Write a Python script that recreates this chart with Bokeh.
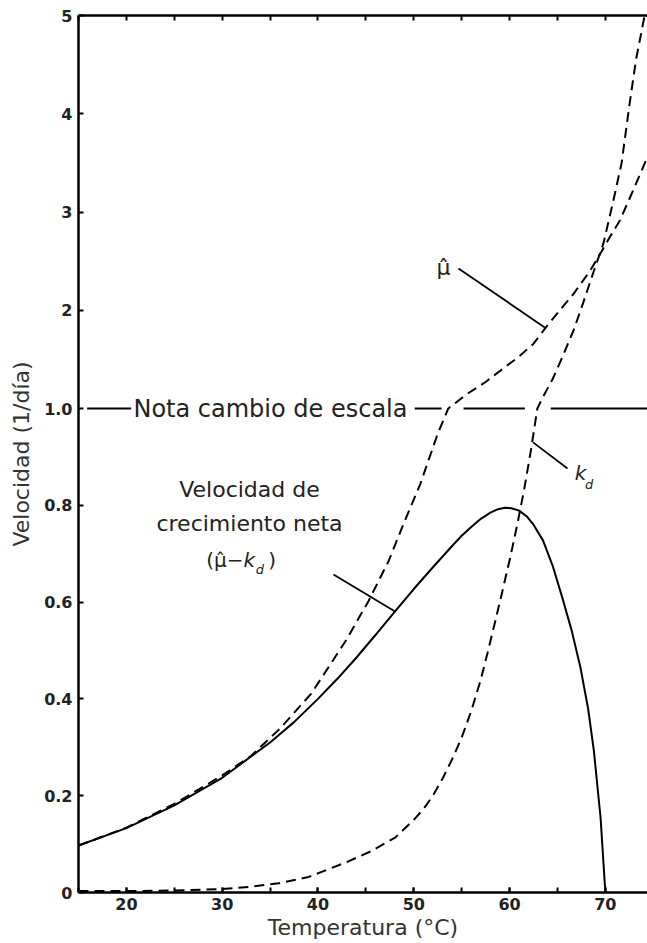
from bokeh.plotting import figure
from bokeh.models import Range1d, FixedTicker, Label, LinearAxis
from bokeh.embed import file_html
from bokeh.resources import INLINE

# ---------------- data (real values, 1/día) ----------------
temp_net = [15, 20, 25, 30, 35, 37.5, 40, 42, 44, 46, 48, 50, 52, 54, 55, 56, 57,
            58, 58.8, 59.5, 60.2, 61, 61.8, 62.5, 63.5, 64.5, 65.6, 66.5, 67.4,
            68.2, 68.8, 69.5, 70.0]
net_rate = [0.097, 0.133, 0.180, 0.237, 0.310, 0.352, 0.400, 0.441, 0.485, 0.532,
            0.580, 0.627, 0.672, 0.716, 0.737, 0.755, 0.772, 0.785, 0.792, 0.795,
            0.794, 0.789, 0.777, 0.760, 0.727, 0.675, 0.603, 0.540, 0.465, 0.380,
            0.293, 0.155, 0.0]

temp_mu = [15, 20, 25, 30, 33, 36, 39.3, 42.9, 45.3, 47.4, 49, 50.7, 52.5, 53.6,
           55.6, 57.5, 59.1, 61, 62.5, 63.75, 65, 66.7, 68.4, 69.5, 70.5, 71.5,
           72.9, 74.4]
mu_hat = [0.097, 0.134, 0.183, 0.242, 0.282, 0.338, 0.411, 0.52, 0.603, 0.686,
          0.765, 0.845, 0.948, 1.0, 1.15, 1.27, 1.39, 1.53, 1.66, 1.82, 1.97, 2.17,
          2.40, 2.58, 2.75, 2.91, 3.22, 3.56]

temp_kd = [15, 20, 25, 30, 33, 35.9, 39, 42.9, 45.5, 48.1, 50, 51, 52, 53, 54, 55,
           56, 57, 57.7, 58.5, 59.4, 60.1, 60.8, 61.5, 62.2, 62.9, 63.5, 64.5,
           65.5, 66.7, 67.7, 68.8, 69.8, 70.8, 71.7, 72.5, 73.2, 73.9, 74.1]
k_d = [0.003, 0.003, 0.004, 0.007, 0.012, 0.019, 0.032, 0.062, 0.085, 0.114, 0.150,
       0.172, 0.200, 0.235, 0.275, 0.320, 0.375, 0.440, 0.495, 0.560, 0.635,
       0.695, 0.760, 0.830, 0.910, 1.0, 1.12, 1.30, 1.52, 1.80, 2.08, 2.40, 2.68,
       3.10, 3.50, 4.08, 4.55, 4.90, 5.0]

y_ticks_low = [0.0, 0.2, 0.4, 0.6, 0.8, 1.0]
y_labels_low = ["0", "0.2", "0.4", "0.6", "0.8", "1.0"]
y_ticks_high = [2, 3, 4, 5]
y_labels_high = ["2", "3", "4", "5"]
x_major = [20, 30, 40, 50, 60, 70]
x_minor = [15, 20, 25, 30, 35, 40, 45, 50, 55, 60, 65, 70, 75]

# axis break: above 1.0 the scale is compressed (note change of scale)
K = 0.203


def sy(v):
    return v if v <= 1.0 else 1.0 + (v - 1.0) * K


def sys(vals):
    return [sy(v) for v in vals]


FONT = "DejaVu Sans"

p = figure(width=647, height=943, x_range=Range1d(15, 74.4),
           y_range=Range1d(0, sy(5.0)), output_backend="svg",
           toolbar_location=None, min_border_left=78, min_border_right=0,
           min_border_top=15, min_border_bottom=51)
p.background_fill_color = "white"
p.border_fill_color = "white"
p.xgrid.visible = False
p.ygrid.visible = False
p.outline_line_color = None

# x axis
xa = p.xaxis[0]
xa.ticker = FixedTicker(ticks=x_major, minor_ticks=x_minor)
xa.axis_line_width = 2.5
xa.major_tick_in = 5
xa.major_tick_out = 0
xa.minor_tick_in = 5
xa.minor_tick_out = 0
xa.major_tick_line_width = 2
xa.minor_tick_line_width = 2
xa.major_label_text_font = FONT
xa.major_label_text_font_style = "bold"
xa.major_label_text_font_size = "16px"
xa.major_label_text_color = "#222222"
xa.major_label_standoff = 5
xa.axis_label = "Temperatura (°C)"
xa.axis_label_text_font = FONT
xa.axis_label_text_font_style = "normal"
xa.axis_label_text_font_size = "22px"
xa.axis_label_text_color = "#333333"
xa.axis_label_standoff = 2

# top border with inward ticks (no labels)
top = LinearAxis(ticker=FixedTicker(ticks=x_minor, minor_ticks=[]),
                 axis_line_width=2.5, major_tick_in=5, major_tick_out=0,
                 major_tick_line_width=2, major_label_standoff=0,
                 major_label_text_font_size="10px",
                 major_label_overrides={t: "" for t in x_minor})
p.add_layout(top, "above")

# y axis with scale change
ya = p.yaxis[0]
yt = sys(y_ticks_low) + sys(y_ticks_high)
ya.ticker = FixedTicker(ticks=yt, minor_ticks=[])
ya.major_label_overrides = {t: l for t, l in zip(yt, y_labels_low + y_labels_high)}
ya.axis_line_width = 2.5
ya.major_tick_in = 5
ya.major_tick_out = 0
ya.major_tick_line_width = 2
ya.major_label_text_font = FONT
ya.major_label_text_font_style = "bold"
ya.major_label_text_font_size = "16px"
ya.major_label_text_color = "#222222"
ya.major_label_standoff = 6
ya.axis_label = "Velocidad (1/día)"
ya.axis_label_text_font = FONT
ya.axis_label_text_font_style = "normal"
ya.axis_label_text_font_size = "22px"
ya.axis_label_text_color = "#333333"
ya.axis_label_standoff = 7

# curves
p.line(temp_net, sys(net_rate), line_color="black", line_width=2)
p.line(temp_mu, sys(mu_hat), line_color="black", line_width=2, line_dash="10 6")
p.line(temp_kd, sys(k_d), line_color="black", line_width=2, line_dash="10 6")

# scale-change line at 1.0
for x0, x1 in [(15.9, 20.5), (50.1, 52.9), (55.2, 61.6), (64.3, 74.4)]:
    p.line([x0, x1], [1.0, 1.0], line_color="black", line_width=2)

p.add_layout(Label(x=35.04, y=1.0, text="Nota cambio de escala", text_font=FONT,
                   text_font_size="24px", text_color="#222222",
                   text_align="center", text_baseline="middle"))

# net growth annotation
for txt, yy in [("Velocidad de", 0.833), ("crecimiento neta", 0.762)]:
    p.add_layout(Label(x=32.85, y=yy, text=txt, text_font=FONT,
                       text_font_size="22px", text_color="#222222",
                       text_align="center", text_baseline="middle"))
p.add_layout(Label(x=32.22, y=0.686, text="(μ̂−", text_font=FONT,
                   text_font_size="20px", text_color="#222222",
                   text_align="right", text_baseline="middle"))
p.add_layout(Label(x=32.22, y=0.686, text="k", text_font=FONT,
                   text_font_style="italic", text_font_size="20px",
                   text_color="#222222", text_align="left", text_baseline="middle"))
p.add_layout(Label(x=33.5, y=0.668, text="d", text_font=FONT,
                   text_font_style="italic", text_font_size="13px",
                   text_color="#222222", text_align="left", text_baseline="middle"))
p.add_layout(Label(x=34.8, y=0.686, text=")", text_font=FONT,
                   text_font_size="20px", text_color="#222222",
                   text_align="left", text_baseline="middle"))
p.line([41.62, 48.09], [0.657, 0.580], line_color="black", line_width=1.8)

# mu hat annotation
p.add_layout(Label(x=53.1, y=sy(2.435), text="μ̂", text_font=FONT,
                   text_font_size="22px", text_color="#222222",
                   text_align="center", text_baseline="middle"))
p.line([54.67, 63.75], [sy(2.425), sy(1.82)], line_color="black", line_width=1.8)

# k_d annotation
p.add_layout(Label(x=67.4, y=0.866, text="k", text_font=FONT,
                   text_font_style="italic", text_font_size="20px",
                   text_color="#222222", text_align="center", text_baseline="middle"))
p.add_layout(Label(x=68.3, y=0.843, text="d", text_font=FONT,
                   text_font_style="italic", text_font_size="13px",
                   text_color="#222222", text_align="center", text_baseline="middle"))
p.line([62.45, 66.05], [0.93, 0.876], line_color="black", line_width=1.8)

open("out.html", "w").write(file_html(p, INLINE))
